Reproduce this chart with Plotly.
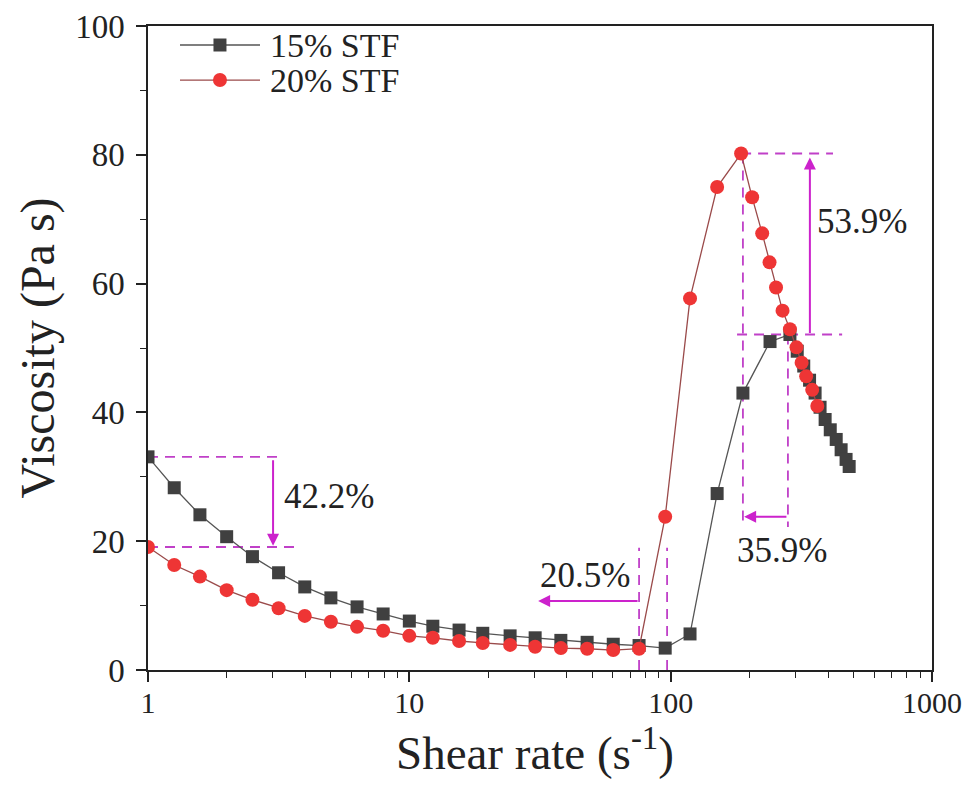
import numpy as np
import plotly.graph_objects as go

# Shear rate (1/s) and viscosity (Pa s) for the two suspensions
rate_15 = [1.0, 1.26, 1.58, 2.0, 2.51, 3.16, 3.98, 5.01, 6.31, 7.94, 10.0, 12.3,
           15.5, 19.1, 24.3, 30.3, 38.0, 47.9, 60.3, 75.7, 95.3, 118.6, 150.6,
           189.0, 240.0, 286.0, 305.0, 323.0, 340.0, 357.0, 373.0, 390.0, 408.0,
           430.0, 449.0, 469.0, 482.0]
visc_15 = [33.1, 28.3, 24.1, 20.7, 17.6, 15.1, 12.9, 11.2, 9.8, 8.7, 7.6, 6.8,
           6.2, 5.7, 5.3, 5.0, 4.6, 4.3, 4.0, 3.8, 3.4, 5.6, 27.4,
           43.0, 51.0, 52.1, 49.5, 47.2, 45.0, 43.0, 40.8, 38.9, 37.3,
           35.8, 34.2, 32.7, 31.6]

rate_20 = [1.0, 1.26, 1.58, 2.0, 2.51, 3.16, 3.98, 5.01, 6.31, 7.94, 10.0, 12.3,
           15.5, 19.1, 24.3, 30.3, 38.0, 47.9, 60.3, 75.7, 95.3, 118.6, 150.6,
           186.0, 205.0, 224.0, 239.0, 253.0, 268.0, 286.0, 303.0, 317.0, 330.0,
           348.0, 364.0]
visc_20 = [19.1, 16.3, 14.5, 12.4, 10.9, 9.6, 8.4, 7.5, 6.7, 6.1, 5.3, 5.0,
           4.5, 4.2, 3.9, 3.6, 3.4, 3.3, 3.1, 3.3, 23.8, 57.7, 75.0,
           80.2, 73.4, 67.8, 63.3, 59.4, 55.8, 52.9, 50.1, 47.7, 45.6,
           43.5, 41.0]

series_names = ["15% STF", "20% STF"]

# Guide lines marking the compared values: (x values, y values)
guides = [
    ([1.0, 3.26], [33.1, 33.1]),
    ([1.0, 3.72], [19.1, 19.1]),
    ([75.7, 75.7], [0.0, 19.0]),
    ([96.9, 96.9], [0.0, 19.0]),
    ([186.0, 418.0], [80.2, 80.2]),
    ([179.5, 453.0], [52.1, 52.1]),
    ([189.0, 189.0], [80.2, 22.2]),
    ([281.0, 281.0], [52.1, 22.2]),
]

# Arrows: (tail x, tail y, head x, head y)
arrows = [
    (3.01, 32.8, 3.01, 19.3),
    (75.7, 10.7, 31.1, 10.7),
    (341.0, 52.1, 341.0, 79.6),
    (281.0, 23.8, 191.0, 23.8),
]

# Percentage labels: (text, x, y, xanchor)
pct_labels = [
    ("42.2%", 3.26, 26.9, "left"),
    ("20.5%", 47.0, 14.7, "center"),
    ("53.9%", 357.0, 69.6, "left"),
    ("35.9%", 176.0, 18.6, "left"),
]

guide_color = "#C040C8"
arrow_color = "#CC22CC"
ink = "#222222"
font_family = "Liberation Serif, Times New Roman, serif"

black_line = dict(color="#555555", width=1.3)
black_marker = dict(symbol="square", size=13, color="#404040")
red_line = dict(color="#9A4A4A", width=1.3)
red_marker = dict(symbol="circle", size=14, color="#EE3535")

fig = go.Figure()

for gx, gy in guides:
    fig.add_trace(go.Scatter(
        x=gx, y=gy, mode="lines", showlegend=False, hoverinfo="skip",
        line=dict(color=guide_color, width=1.8, dash="10px,7px"),
    ))

fig.add_trace(go.Scatter(
    x=rate_15, y=visc_15, mode="lines+markers", name=series_names[0],
    showlegend=False, line=black_line, marker=black_marker,
))
fig.add_trace(go.Scatter(
    x=rate_20, y=visc_20, mode="lines+markers", name=series_names[1],
    showlegend=False, line=red_line, marker=red_marker,
))

# Legend drawn on an overlay of unit axes so the sample lines can be long
legend_rows = [0.9705, 0.9161]
for name, row, ln, mk in zip(series_names, legend_rows,
                             [black_line, red_line], [black_marker, red_marker]):
    fig.add_trace(go.Scatter(
        x=[0.0408, 0.1429], y=[row, row], mode="lines", line=ln,
        xaxis="x2", yaxis="y2", showlegend=False, hoverinfo="skip",
    ))
    fig.add_trace(go.Scatter(
        x=[0.0918], y=[row], mode="markers", marker=mk,
        xaxis="x2", yaxis="y2", showlegend=False, hoverinfo="skip",
    ))
    fig.add_annotation(
        x=0.153, y=row, xref="x2", yref="y2", text=name, showarrow=False,
        xanchor="left", yanchor="middle",
        font=dict(family=font_family, size=34, color=ink),
    )

for tx, ty, hx, hy in arrows:
    fig.add_annotation(
        x=np.log10(hx), y=hy, ax=np.log10(tx), ay=ty,
        xref="x", yref="y", axref="x", ayref="y",
        text="", showarrow=True, arrowhead=2, arrowsize=1.2,
        arrowwidth=2, arrowcolor=arrow_color,
    )

for text, lx, ly, anchor in pct_labels:
    fig.add_annotation(
        x=np.log10(lx), y=ly, xref="x", yref="y", text=text,
        showarrow=False, xanchor=anchor, yanchor="middle",
        font=dict(family=font_family, size=35, color=ink),
    )

# Horizontal axis title
fig.add_annotation(
    x=0.4936, y=-0.124, xref="paper", yref="paper",
    text="Shear rate (s<sup>-1</sup>)", showarrow=False,
    xanchor="center", yanchor="middle",
    font=dict(family=font_family, size=47, color=ink),
)

axis_common = dict(
    showline=True, linecolor=ink, linewidth=1.5, mirror=True,
    ticks="outside", tickcolor=ink, tickwidth=1.5, ticklen=10,
    showgrid=False, zeroline=False, automargin=False,
    ticklabeloverflow="allow",
)

xaxis = dict(
    type="log", range=[0, 3], tickvals=[1, 10, 100, 1000],
    ticktext=["1", "10", "100", "1000"], ticklabelstandoff=-5,
    tickfont=dict(family=font_family, size=30, color=ink),
    minor=dict(ticks="outside", ticklen=6, tickwidth=1.2, tickcolor=ink,
               dtick="D1", showgrid=False),
    **axis_common,
)
yaxis = dict(
    range=[0, 100], dtick=20, ticklabelstandoff=5,
    tickfont=dict(family=font_family, size=33, color=ink),
    minor=dict(ticks="outside", ticklen=6, tickwidth=1.2, tickcolor=ink,
               dtick=10, showgrid=False),
    title=dict(text="Viscosity (Pa s)", standoff=5,
               font=dict(family=font_family, size=48, color=ink)),
    **axis_common,
)

fig.update_layout(
    width=963, height=808,
    margin=dict(l=148, r=31, t=26, b=138),
    paper_bgcolor="white", plot_bgcolor="white",
    showlegend=False,
    xaxis=xaxis, yaxis=yaxis,
    xaxis2=dict(overlaying="x", range=[0, 1], visible=False, anchor="y2"),
    yaxis2=dict(overlaying="y", range=[0, 1], visible=False, anchor="x2"),
)

fig.write_html("out.html")
